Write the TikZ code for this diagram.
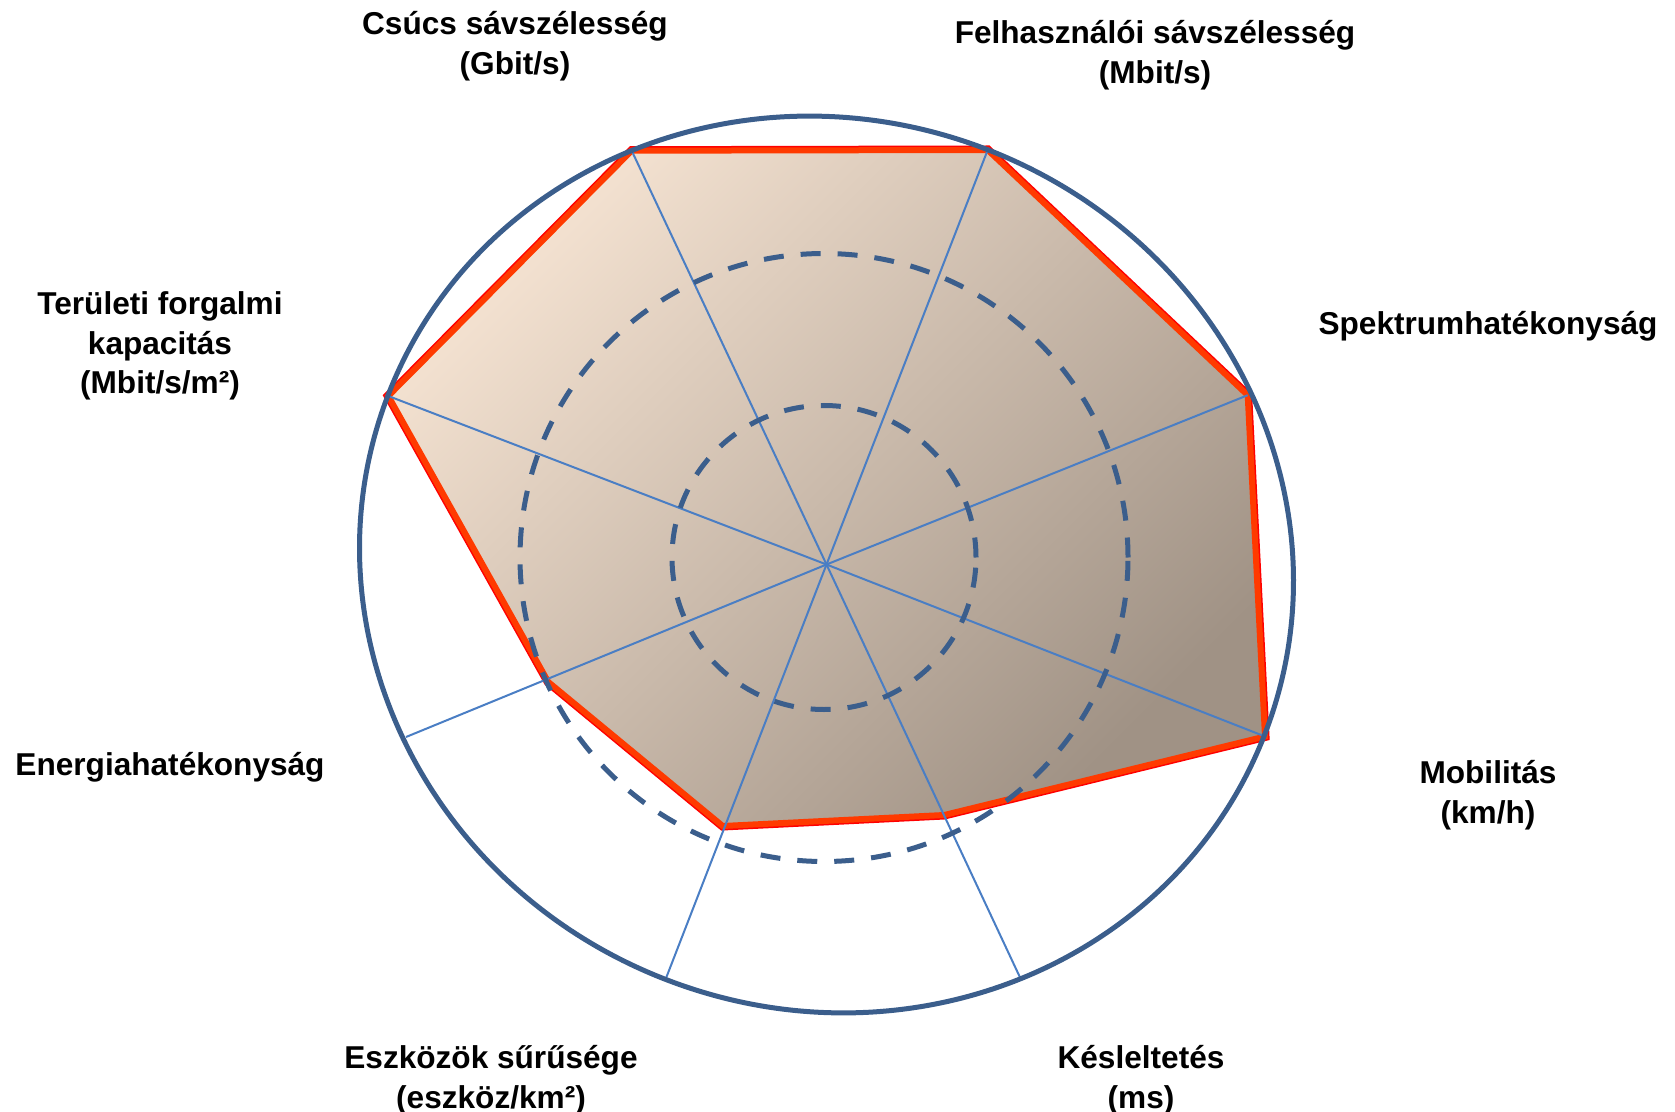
\documentclass[tikz,border=0pt]{standalone}
\usepackage{fontspec}
\setmainfont{Liberation Sans}
\definecolor{ringblue}{HTML}{3B5E8C}
\definecolor{spokeblue}{HTML}{4A7EC4}
\definecolor{edgered}{HTML}{FF0000}
\definecolor{edgeorange}{HTML}{FF3A00}
\definecolor{filllight}{HTML}{F4E2D1}
\definecolor{filldark}{HTML}{A09285}
\begin{document}
\begin{tikzpicture}[x=0.5pt,y=-0.5pt,
  lbl/.style={font=\bfseries\fontsize{15.8pt}{19.75pt}\selectfont, align=center, inner sep=0pt},
  spoke/.style={draw=spokeblue, line width=1pt},
  ring/.style={draw=ringblue, line width=2.5pt},
  dashring/.style={ring, dash pattern=on 10pt off 8.5pt},
  areaedge/.style={draw=edgered, line width=4.5pt, line join=miter},
  areatop/.style={draw=edgeorange, line width=3pt, line join=miter}]
\useasboundingbox (0,0) rectangle (1675,1112);

% centre of the chart
\coordinate (O) at (826.5,564.5);
% axis ends on the outer ring
\coordinate (a1) at (631.7,150.7);
\coordinate (a2) at (987.7,150.0);
\coordinate (a3) at (1247.7,395.2);
\coordinate (a4) at (1265.0,736.5);
\coordinate (a5) at (1020.0,977.4);
\coordinate (a6) at (665.5,979.5);
\coordinate (a7) at (406.0,737.0);
\coordinate (a8) at (388.3,396.0);
% data points
\coordinate (v1) at (a1);
\coordinate (v2) at (a2);
\coordinate (v3) at (a3);
\coordinate (v4) at (a4);
\coordinate (v5) at (944.3,815.0);
\coordinate (v6) at (722.7,826.0);
\coordinate (v7) at (548.3,682.0);
\coordinate (v8) at (a8);
% centre of the dashed reference rings
\coordinate (D) at (824,557.5);

% data area: red rim, shaded fill, orange edge
\path[areaedge] (v1) -- (v2) -- (v3) -- (v4) -- (v5) -- (v6) -- (v7) -- (v8) -- cycle;
\shade[top color=filllight, bottom color=filldark, shading angle=45]
  (v1) -- (v2) -- (v3) -- (v4) -- (v5) -- (v6) -- (v7) -- (v8) -- cycle;
\path[areatop] (v1) -- (v2) -- (v3) -- (v4) -- (v5) -- (v6) -- (v7) -- (v8) -- cycle;

% axes
\foreach \i in {1,...,8} \draw[spoke] (O) -- (a\i);

% reference rings
\draw[dashring] (D) circle [radius=152pt/2];
\draw[dashring] (D) circle [radius=304pt/2];
\draw[ring, rotate around={-21:(O)}] (O) ellipse [x radius=235pt, y radius=222.5pt];

% axis labels
\node[lbl] (l1) at (515,46) {Csúcs sávszélesség\\(Gbit/s)};
\node[lbl] (l2) at (1155,55) {Felhasználói sávszélesség\\(Mbit/s)};
\node[lbl] (l3) at (1488,326.5) {Spektrumhatékonyság};
\node[lbl] (l4) at (1488,795) {Mobilitás\\(km/h)};
\node[lbl] (l5) at (1141,1080) {Késleltetés\\(ms)};
\node[lbl] (l6) at (491,1080) {Eszközök sűrűsége\\(eszköz/km²)};
\node[lbl] (l7) at (170,767) {Energiahatékonyság};
\node[lbl] (l8) at (160,346) {Területi forgalmi\\kapacitás\\(Mbit/s/m²)};
\end{tikzpicture}
\end{document}
